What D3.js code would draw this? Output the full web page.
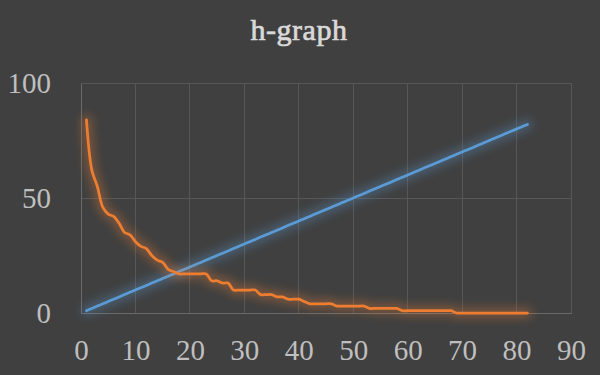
<!DOCTYPE html>
<meta charset="utf-8">
<style>
body { margin: 0; background: #404040; }
svg { display: block; background: #404040; }
.title { font: 30px "Liberation Serif", "DejaVu Serif", serif; fill: #d9d9d9; stroke: #d9d9d9; stroke-width: 0.7px; text-anchor: middle; letter-spacing: 0.5px; }
.axis text { font: 29px "Liberation Serif", "DejaVu Serif", serif; fill: #bfbfbf; }
.grid line { stroke: #575757; stroke-width: 1; shape-rendering: crispEdges; }
.axis .domain { stroke: #6a6a6a; shape-rendering: crispEdges; }
</style>
<body>
<svg id="chart" width="600" height="375"></svg>
<script src="https://cdn.jsdelivr.net/npm/d3@7"></script>
<script>

// papers ranked 1..82, citations of each (sorted), and the h = rank line
var ranks = d3.range(1, 83);
var citations = [84, 62, 55, 46, 43, 42, 39, 35, 34, 31,
                 29, 28, 25, 23, 22, 19, 18, 17, 17, 17,
                 17, 17, 17, 14, 14, 13, 13, 10, 10, 10,
                 10, 10, 8, 8, 8, 7, 7, 6, 6, 6,
                 5, 4, 4, 4, 4, 4, 3, 3, 3, 3,
                 3, 3, 2, 2, 2, 2, 2, 2, 1, 1,
                 1, 1, 1, 1, 1, 1, 1, 1, 0, 0,
                 0, 0, 0, 0, 0, 0, 0, 0, 0, 0,
                 0, 0];
var diagonal = ranks.slice();
var xTicks = [0, 10, 20, 30, 40, 50, 60, 70, 80, 90];
var yTicks = [0, 50, 100];

var svg = d3.select("#chart");

var x = d3.scaleLinear().domain([0, 90]).range([81, 571]);
var y = d3.scaleLinear().domain([0, 100]).range([313, 83]);

var defs = svg.append("defs");
defs.append("filter")
    .attr("id", "glow")
    .attr("x", "-20%").attr("y", "-20%")
    .attr("width", "140%").attr("height", "140%")
  .append("feGaussianBlur")
    .attr("stdDeviation", 5);

svg.append("text")
    .attr("class", "title")
    .attr("x", 299)
    .attr("y", 40)
    .text("h-graph");

// gridlines
svg.append("g")
    .attr("class", "grid")
    .selectAll("line.v")
    .data(xTicks.slice(1))
    .enter().append("line")
    .attr("x1", x).attr("x2", x)
    .attr("y1", y(0)).attr("y2", y(100));

svg.select(".grid")
    .selectAll("line.h")
    .data(yTicks.slice(1))
    .enter().append("line")
    .attr("x1", x(0)).attr("x2", x(90))
    .attr("y1", y).attr("y2", y);

// axes
var xAxis = svg.append("g")
    .attr("class", "axis")
    .attr("transform", "translate(0," + y(0) + ")")
    .call(d3.axisBottom(x).tickValues(xTicks).tickSize(0).tickSizeOuter(0));
xAxis.selectAll("text")
    .attr("y", 47)
    .attr("dy", null);

var yAxis = svg.append("g")
    .attr("class", "axis")
    .attr("transform", "translate(" + x(0) + ",0)")
    .call(d3.axisLeft(y).tickValues(yTicks).tickSize(0).tickSizeOuter(0));
yAxis.selectAll("text")
    .attr("x", -30)
    .attr("dy", "0.32em");

var line = function(vals) {
  return d3.line()
    .x(function(d, i) { return x(ranks[i]); })
    .y(function(d) { return y(d); })
    .curve(d3.curveCatmullRom.alpha(0.5))(vals);
};

var series = [
  { vals: diagonal, color: "#5b9bd5" },
  { vals: citations, color: "#ed7d31" }
];

series.forEach(function(s) {
  // soft glow underneath
  svg.append("path")
      .attr("d", line(s.vals))
      .attr("fill", "none")
      .attr("stroke", s.color)
      .attr("stroke-width", 10)
      .attr("stroke-opacity", 0.35)
      .attr("stroke-linecap", "round")
      .attr("filter", "url(#glow)");
  svg.append("path")
      .attr("d", line(s.vals))
      .attr("fill", "none")
      .attr("stroke", s.color)
      .attr("stroke-width", 2.75)
      .attr("stroke-linecap", "round")
      .attr("stroke-linejoin", "round");
});

</script>
</body>
